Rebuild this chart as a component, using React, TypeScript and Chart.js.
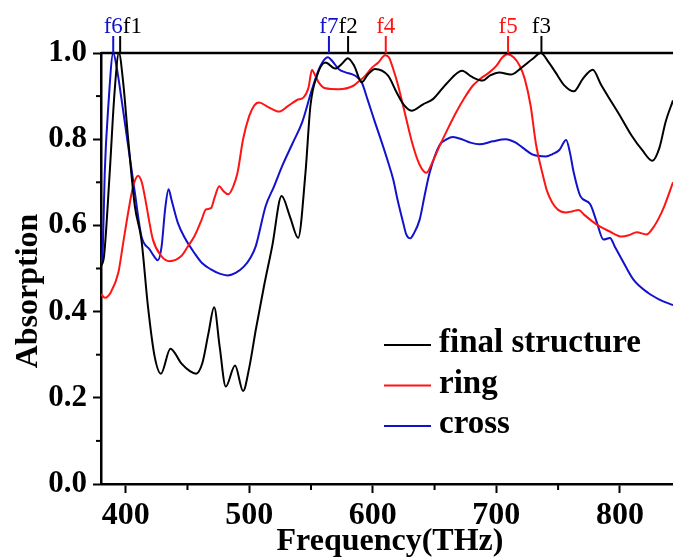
import React, { useEffect, useRef } from "react";
import { Chart, registerables } from "chart.js";

Chart.register(...registerables);

// ---------- data ----------
const seriesNames = ["final structure", "ring", "cross"];
const seriesColors = ["#000000", "#ff1414", "#1212cc"];

const finalFreq = [380, 382.5, 387, 391, 394.5, 398, 402, 407.4, 412.7, 418, 423.4, 428.5, 436.2, 445, 452, 457, 462, 467, 471.6, 476, 481, 488.5, 495, 500, 505.3, 512, 518.6, 526.2, 533, 539.6, 545.5, 549.5, 554.8, 561.6, 569.6, 575, 579.8, 585, 591, 596, 601.8, 612.5, 619.2, 625, 631.3, 640.7, 648.7, 660, 672.3, 680, 689, 695, 702.4, 711.7, 720, 729.2, 736, 742, 747.9, 755, 762.7, 770, 778, 785, 793.5, 801, 809.6, 818, 826.3, 832, 837, 843];
const finalAbs = [0.505, 0.53, 0.72, 0.91, 1.0, 0.93, 0.8, 0.645, 0.567, 0.412, 0.296, 0.256, 0.314, 0.28, 0.262, 0.256, 0.28, 0.35, 0.41, 0.32, 0.226, 0.275, 0.216, 0.27, 0.358, 0.46, 0.552, 0.668, 0.62, 0.571, 0.722, 0.877, 0.947, 0.978, 0.964, 0.975, 0.988, 0.97, 0.932, 0.95, 0.963, 0.947, 0.909, 0.88, 0.866, 0.881, 0.893, 0.93, 0.959, 0.945, 0.936, 0.948, 0.955, 0.95, 0.965, 0.986, 1.0, 0.98, 0.955, 0.925, 0.911, 0.94, 0.961, 0.925, 0.885, 0.85, 0.808, 0.775, 0.75, 0.78, 0.84, 0.89];

const ringFreq = [380, 383.2, 388, 394, 398, 402, 406, 410, 413, 415.4, 419, 422, 428.8, 435.5, 445, 450, 455.6, 461, 465, 469, 472, 475.7, 479, 483, 487, 490.5, 495, 500, 504, 508, 515, 524, 531, 538.7, 544, 548, 550.8, 553, 556.2, 561.6, 572.3, 584.3, 589, 593.8, 599, 604.5, 610, 613, 616.5, 620, 624.6, 632.6, 638, 643.3, 648, 654, 660, 667.4, 674, 680.9, 687, 694.3, 700, 705, 709, 714, 719, 723, 727.8, 732, 737.2, 741, 745.2, 750, 756, 762, 766.7, 771, 777.4, 784, 790.9, 801.6, 808, 813.6, 821.7, 827, 831, 836, 843];
const ringAbs = [0.44, 0.432, 0.445, 0.49, 0.56, 0.63, 0.69, 0.715, 0.7, 0.668, 0.61, 0.567, 0.529, 0.517, 0.529, 0.55, 0.575, 0.61, 0.637, 0.64, 0.665, 0.691, 0.68, 0.672, 0.69, 0.722, 0.8, 0.854, 0.878, 0.885, 0.875, 0.864, 0.876, 0.891, 0.897, 0.92, 0.961, 0.95, 0.932, 0.918, 0.916, 0.924, 0.935, 0.947, 0.965, 0.978, 0.995, 0.99, 0.963, 0.93, 0.877, 0.784, 0.74, 0.722, 0.745, 0.784, 0.82, 0.862, 0.895, 0.924, 0.94, 0.955, 0.97, 0.99, 0.997, 0.99, 0.97, 0.94, 0.877, 0.79, 0.722, 0.68, 0.653, 0.636, 0.63, 0.633, 0.636, 0.625, 0.61, 0.597, 0.587, 0.574, 0.578, 0.584, 0.579, 0.595, 0.614, 0.645, 0.7];

const crossFreq = [380, 381.5, 383, 386, 389.9, 392.5, 396.6, 402, 407.4, 412.7, 419.4, 423, 426, 429, 432, 434.7, 437, 442.2, 448, 455.6, 462, 469, 476, 482.4, 489, 495.8, 501, 505.3, 513.3, 520, 526.7, 535, 542.8, 550.8, 557.6, 563.7, 567, 572.3, 578, 583, 587, 591, 596, 601.8, 607, 612.5, 616.5, 620, 624.6, 627, 630.4, 633, 638, 642, 646, 654, 660, 664.8, 672, 679, 686.3, 697, 707.7, 715, 721, 729, 734.5, 740, 745.2, 751, 756.5, 759.5, 762.7, 768, 776, 781, 786.8, 792, 796, 801.6, 811, 823, 832, 843];
const crossAbs = [0.505, 0.55, 0.72, 0.88, 1.0, 0.97, 0.893, 0.784, 0.676, 0.575, 0.544, 0.528, 0.519, 0.55, 0.64, 0.684, 0.66, 0.606, 0.57, 0.536, 0.512, 0.498, 0.488, 0.484, 0.49, 0.505, 0.525, 0.552, 0.645, 0.69, 0.738, 0.79, 0.839, 0.916, 0.97, 0.99, 0.982, 0.963, 0.955, 0.951, 0.945, 0.932, 0.89, 0.839, 0.795, 0.746, 0.707, 0.66, 0.606, 0.58, 0.57, 0.58, 0.614, 0.67, 0.722, 0.786, 0.8, 0.805, 0.8, 0.792, 0.788, 0.795, 0.8, 0.793, 0.781, 0.765, 0.761, 0.76, 0.765, 0.775, 0.798, 0.77, 0.722, 0.668, 0.649, 0.61, 0.567, 0.571, 0.55, 0.521, 0.474, 0.443, 0.428, 0.415];

const markerLabels = ["f6", "f1", "f7", "f2", "f4", "f5", "f3"];
const markerFreqs = [389.9, 395.5, 564.5, 580, 610.5, 709.5, 736.5];
const markerSeries = [2, 0, 2, 0, 1, 1, 0];

const xTickValues = [400, 450, 500, 550, 600, 650, 700, 750, 800];
const xMajorTicks = [400, 500, 600, 700, 800];
const yTickValues = [0, 0.1, 0.2, 0.3, 0.4, 0.5, 0.6, 0.7, 0.8, 0.9, 1.0];
const yMajorTicks = [0, 0.2, 0.4, 0.6, 0.8, 1.0];

const xMin = 380;
const xMax = 843;
const xTitle = "Frequency(THz)";
const yTitle = "Absorption";

const SERIF = "'Liberation Serif', 'Times New Roman', serif";

const isMajor = (list: number[], v: number) => list.some((m) => Math.abs(m - v) < 1e-6);

const decorPlugin = {
  id: "decor",
  afterDraw(chart: any) {
    const { ctx, chartArea, scales } = chart;
    const xs = scales.x;
    const ys = scales.y;
    ctx.save();
    // top frame line at y = 1
    const yTop = ys.getPixelForValue(1);
    ctx.strokeStyle = "#000";
    ctx.lineWidth = 2.5;
    ctx.beginPath();
    ctx.moveTo(chartArea.left, yTop);
    ctx.lineTo(chartArea.right, yTop);
    ctx.stroke();

    // minor ticks
    ctx.lineWidth = 2;
    xTickValues.forEach((v) => {
      if (isMajor(xMajorTicks, v)) return;
      const px = xs.getPixelForValue(v);
      ctx.beginPath();
      ctx.moveTo(px, chartArea.bottom);
      ctx.lineTo(px, chartArea.bottom + 6);
      ctx.stroke();
    });
    yTickValues.forEach((v) => {
      if (isMajor(yMajorTicks, v)) return;
      const py = ys.getPixelForValue(v);
      ctx.beginPath();
      ctx.moveTo(chartArea.left, py);
      ctx.lineTo(chartArea.left - 5, py);
      ctx.stroke();
    });

    // markers
    ctx.font = `23px ${SERIF}`;
    ctx.textBaseline = "alphabetic";
    ctx.textAlign = "left";
    let prevRight = -Infinity;
    markerLabels.forEach((lab, i) => {
      const px = xs.getPixelForValue(markerFreqs[i]);
      const color = seriesColors[markerSeries[i]];
      ctx.strokeStyle = color;
      ctx.lineWidth = 2;
      ctx.beginPath();
      ctx.moveTo(px, yTop - 17);
      ctx.lineTo(px, yTop);
      ctx.stroke();
      const w = ctx.measureText(lab).width;
      let left = px - w / 2;
      if (left < prevRight) left = prevRight;
      ctx.fillStyle = color;
      ctx.fillText(lab, left, 33);
      prevRight = left + w;
    });

    // legend
    ctx.font = `bold 33px ${SERIF}`;
    seriesNames.forEach((name, i) => {
      const ly = 345 + i * 40.5;
      ctx.strokeStyle = seriesColors[i];
      ctx.lineWidth = 2;
      ctx.beginPath();
      ctx.moveTo(384, ly);
      ctx.lineTo(431, ly);
      ctx.stroke();
      ctx.fillStyle = "#000";
      ctx.textAlign = "left";
      ctx.fillText(name, 439, ly + 7);
    });

    // axis titles
    ctx.fillStyle = "#000";
    ctx.font = `bold 32px ${SERIF}`;
    ctx.textAlign = "center";
    ctx.textBaseline = "alphabetic";
    ctx.fillText(xTitle, 390, 550);
    ctx.save();
    ctx.translate(37, 291);
    ctx.rotate(-Math.PI / 2);
    ctx.fillText(yTitle, 0, 0);
    ctx.restore();
    ctx.restore();
  },
};

export default function App() {
  const ref = useRef<HTMLCanvasElement | null>(null);
  useEffect(() => {
    if (!ref.current) return;
    const mk = (xsArr: number[], ysArr: number[]) => xsArr.map((x, i) => ({ x, y: ysArr[i] }));
    const chart = new Chart(ref.current, {
      type: "line",
      data: {
        datasets: [
          { label: seriesNames[0], data: mk(finalFreq, finalAbs) },
          { label: seriesNames[1], data: mk(ringFreq, ringAbs) },
          { label: seriesNames[2], data: mk(crossFreq, crossAbs) },
        ].map((d, i) => ({
          ...d,
          borderColor: seriesColors[i],
          backgroundColor: seriesColors[i],
          borderWidth: 2,
          pointRadius: 0,
          cubicInterpolationMode: "monotone" as const,
          fill: false,
        })),
      },
      options: {
        animation: false,
        responsive: false,
        events: [],
        layout: { padding: { top: 53, right: 0, left: 0, bottom: 0 } },
        plugins: { legend: { display: false }, tooltip: { enabled: false } },
        scales: {
          x: {
            type: "linear",
            min: xMin,
            max: xMax,
            afterBuildTicks: (s: any) => {
              s.ticks = xTickValues.map((v) => ({ value: v }));
            },
            afterFit: (s: any) => {
              s.height = 73;
            },
            border: { display: true, color: "#000", width: 2.5 },
            grid: {
              drawOnChartArea: false,
              drawTicks: true,
              tickLength: 9,
              tickWidth: 2,
              tickColor: (c: any) => (isMajor(xMajorTicks, c.tick?.value) ? "#000" : "rgba(0,0,0,0)"),
            },
            ticks: {
              autoSkip: false,
              maxRotation: 0,
              padding: 4,
              color: "#000",
              font: { family: SERIF, size: 32, weight: "bold" },
              callback: (v: any) => (isMajor(xMajorTicks, Number(v)) ? String(v) : ""),
            },
          },
          y: {
            type: "linear",
            min: 0,
            max: 1,
            afterBuildTicks: (s: any) => {
              s.ticks = yTickValues.map((v) => ({ value: v }));
            },
            afterFit: (s: any) => {
              s.width = 101;
            },
            border: { display: true, color: "#000", width: 2.5 },
            grid: {
              drawOnChartArea: false,
              drawTicks: true,
              tickLength: 8,
              tickWidth: 2,
              tickColor: (c: any) => (isMajor(yMajorTicks, c.tick?.value) ? "#000" : "rgba(0,0,0,0)"),
            },
            ticks: {
              autoSkip: false,
              padding: 6,
              color: "#000",
              font: { family: SERIF, size: 31, weight: "bold" },
              callback: (v: any) => (isMajor(yMajorTicks, Number(v)) ? Number(v).toFixed(1) : ""),
            },
          },
        },
      },
      plugins: [decorPlugin],
    });
    return () => chart.destroy();
  }, []);
  return (
    <div style={{ position: "absolute", left: 0, top: 0, width: 673, height: 557, background: "#fff" }}>
      <canvas ref={ref} width={673} height={557} style={{ width: 673, height: 557, display: "block" }} />
    </div>
  );
}
